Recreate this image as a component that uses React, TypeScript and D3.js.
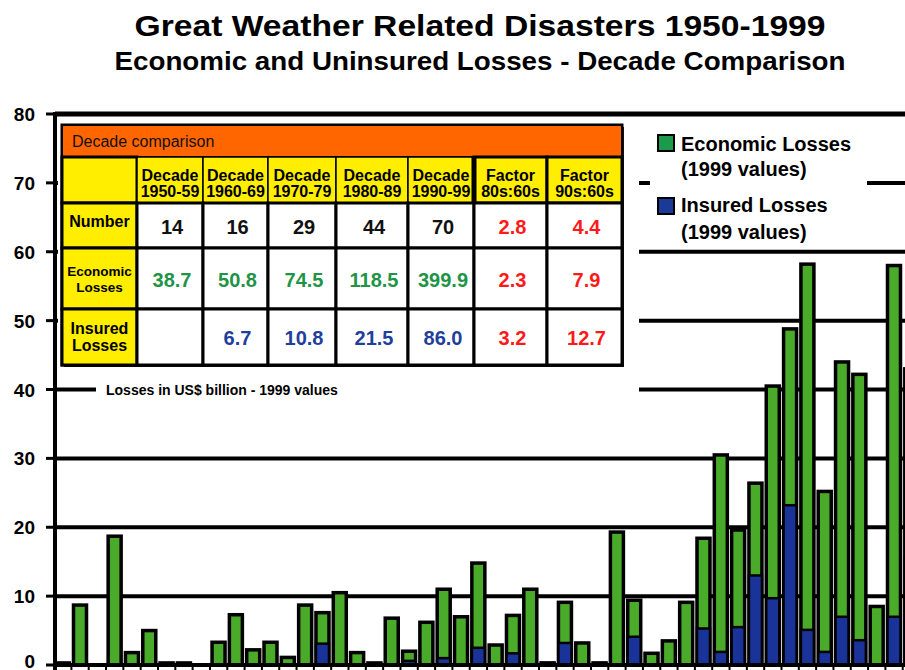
import React from "react";
import * as d3 from "d3";

const years = [1950,1951,1952,1953,1954,1955,1956,1957,1958,1959,1960,1961,1962,1963,1964,1965,1966,1967,1968,1969,1970,1971,1972,1973,1974,1975,1976,1977,1978,1979,1980,1981,1982,1983,1984,1985,1986,1987,1988,1989,1990,1991,1992,1993,1994,1995,1996,1997,1998,1999];
const economic = [0.3,8.7,0,18.7,1.8,5.0,0.3,0.3,0,3.3,7.3,2.2,3.3,1.1,8.7,7.6,10.5,1.8,0.3,6.8,2.0,6.2,11.0,7.0,14.8,2.9,7.2,11.0,0.3,9.1,3.2,0.3,19.3,9.4,1.7,3.5,9.1,18.4,30.5,19.6,26.4,40.5,48.8,58.2,25.2,44.0,42.2,8.5,58.0,43.0];
const insured = [0,0,0,0,0,0,0,0,0,0,0,0,0,0,0,3.1,0,0,0,0,0.6,0,1.0,0,2.5,0,1.7,0,0.3,3.2,0,0.3,0,4.1,0,0,0,5.3,1.9,5.5,13.0,9.7,23.2,5.1,1.9,7.0,3.6,0,7.0,15.5];
const yTicks = [0,10,20,30,40,50,60,70,80];

const decadeHeaders = [["Decade","1950-59"],["Decade","1960-69"],["Decade","1970-79"],["Decade","1980-89"],["Decade","1990-99"],["Factor","80s:60s"],["Factor","90s:60s"]];
const rowLabels = [["Number"],["Economic","Losses"],["Insured","Losses"]];
const numberRow = ["14","16","29","44","70","2.8","4.4"];
const economicRow = ["38.7","50.8","74.5","118.5","399.9","2.3","7.9"];
const insuredRow = ["","6.7","10.8","21.5","86.0","3.2","12.7"];

const FONT = "'Liberation Sans', Arial, sans-serif";
const GREEN = "#4aab2a";
const BLUE = "#1a3399";
const C_NUM = "#111";
const C_ECON = "#1f9447";
const C_INS = "#1f3f9c";
const C_FAC = "#ff1a1a";

export default function App() {
  const W = 905, H = 670;
  const y = d3.scaleLinear().domain([0, 80]).range([665, 114]);
  const x = d3.scaleLinear().domain([1951, 1998]).range([80, 894]);
  const barW = 13;

  const colEdges = [62, 137, 203, 268, 336, 408, 474, 547, 622];
  const rowEdges = [157, 203, 248, 309, 365];
  const rows = [numberRow, economicRow, insuredRow];
  const rowColors = [C_NUM, C_ECON, C_INS];

  return (
    <div style={{ position: "absolute", left: 0, top: 0 }}>
      <svg width={W} height={H} style={{ display: "block", fontFamily: FONT }}>
        <rect x={0} y={0} width={W} height={H} fill="#fff" />
        {/* titles */}
        <text x={480} y={36} textAnchor="middle" fontSize={30} fontWeight="bold" textLength={691} lengthAdjust="spacingAndGlyphs">Great Weather Related Disasters 1950-1999</text>
        <text x={480} y={70} textAnchor="middle" fontSize={25} fontWeight="bold" textLength={731} lengthAdjust="spacingAndGlyphs">Economic and Uninsured Losses - Decade Comparison</text>

        {/* gridlines */}
        {yTicks.filter(t => t > 0).map(t => (
          <line key={"g" + t} x1={55} x2={W} y1={y(t)} y2={y(t)} stroke="#000" strokeWidth={t === 80 ? 5 : 4} />
        ))}
        {/* covers for table and legend */}
        <rect x={58} y={118} width={581} height={262} fill="#fff" />
        <rect x={96} y={378} width={543} height={24} fill="#fff" />
        <rect x={650} y={118} width={217} height={128} fill="#fff" />

        {/* bars */}
        {years.map((yr, i) => economic[i] > 0 ? (
          <g key={"b" + yr}>
            <rect x={x(yr) - barW / 2} y={y(economic[i])} width={barW} height={y(0) - y(economic[i])} fill={GREEN} stroke="#000" strokeWidth={3.5} />
            {insured[i] > 0 && (
              <rect x={x(yr) - barW / 2} y={y(insured[i])} width={barW} height={y(0) - y(insured[i])} fill={BLUE} stroke="#000" strokeWidth={2.5} />
            )}
          </g>
        ) : null)}

        {/* axes */}
        <line x1={55} x2={55} y1={112} y2={H} stroke="#000" strokeWidth={4} />
        <line x1={53} x2={W} y1={y(0)} y2={y(0)} stroke="#000" strokeWidth={4} />
        {years.map(yr => (
          <line key={"xt" + yr} x1={x(yr) - 8.6} x2={x(yr) - 8.6} y1={y(0)} y2={y(0) + 6} stroke="#000" strokeWidth={2} />
        ))}
        {yTicks.map(t => (
          <g key={"yt" + t}>
            <line x1={46} x2={56} y1={y(t)} y2={y(t)} stroke="#000" strokeWidth={3} />
            <text x={35} y={t === 0 ? 668 : y(t) + 7} textAnchor="end" fontSize={19} fontWeight="bold">{t}</text>
          </g>
        ))}

        {/* table */}
        <rect x={64} y={127} width={560} height={240} fill="#222" />
        <rect x={62} y={125} width={560} height={240} fill="#fff" stroke="#000" strokeWidth={3} />
        <rect x={62} y={125} width={560} height={32} fill="#ff6600" stroke="#000" strokeWidth={2} />
        <text x={72} y={147} fontSize={16} fontWeight={500} fill="#111">Decade comparison</text>
        {/* header row */}
        <rect x={colEdges[0]} y={rowEdges[0]} width={colEdges[1] - colEdges[0]} height={rowEdges[1] - rowEdges[0]} fill="#ffee00" stroke="#000" strokeWidth={3} />
        {decadeHeaders.map((h, j) => (
          <g key={"h" + j}>
            <rect x={colEdges[j + 1]} y={rowEdges[0]} width={colEdges[j + 2] - colEdges[j + 1]} height={rowEdges[1] - rowEdges[0]} fill="#ffee00" stroke="#000" strokeWidth={j >= 5 ? 3 : 1.5} />
            <text x={(colEdges[j + 1] + colEdges[j + 2]) / 2} y={181} textAnchor="middle" fontSize={16} fontWeight="bold">{h[0]}</text>
            <text x={(colEdges[j + 1] + colEdges[j + 2]) / 2} y={197} textAnchor="middle" fontSize={16} fontWeight="bold">{h[1]}</text>
          </g>
        ))}
        <line x1={colEdges[6]} x2={colEdges[6]} y1={rowEdges[0]} y2={rowEdges[4]} stroke="#000" strokeWidth={5} />
        {/* body rows */}
        {rows.map((r, i) => (
          <g key={"r" + i}>
            <rect x={colEdges[0]} y={rowEdges[i + 1]} width={colEdges[1] - colEdges[0]} height={rowEdges[i + 2] - rowEdges[i + 1]} fill="#ffee00" stroke="#000" strokeWidth={3} />
            {rowLabels[i].length === 1 ? (
              <text x={(colEdges[0] + colEdges[1]) / 2} y={(rowEdges[i + 1] + rowEdges[i + 2]) / 2 + 1} textAnchor="middle" fontSize={16} fontWeight="bold">{rowLabels[i][0]}</text>
            ) : (
              rowLabels[i].map((l, k) => (
                <text key={k} x={(colEdges[0] + colEdges[1]) / 2} y={(rowEdges[i + 1] + rowEdges[i + 2]) / 2 - 3 + k * (i === 1 ? 16 : 17)} textAnchor="middle" fontSize={i === 1 ? 13.5 : 16} fontWeight="bold">{l}</text>
              ))
            )}
            {r.map((v, j) => (
              <g key={"c" + j}>
                <rect x={colEdges[j + 1]} y={rowEdges[i + 1]} width={colEdges[j + 2] - colEdges[j + 1]} height={rowEdges[i + 2] - rowEdges[i + 1]} fill="#fff" stroke="#000" strokeWidth={3} />
                <text x={(colEdges[j + 1] + colEdges[j + 2]) / 2 + 2} y={(rowEdges[i + 1] + rowEdges[i + 2]) / 2 + 8} textAnchor="middle" fontSize={20} fontWeight="bold" fill={j >= 5 ? C_FAC : rowColors[i]}>{v}</text>
              </g>
            ))}
          </g>
        ))}

        {/* losses note */}
        <text x={106} y={395} fontSize={14} fontWeight="bold">Losses in US$ billion - 1999 values</text>

        {/* legend */}
        <rect x={658} y={135} width={16} height={16} fill="#1a9a4a" stroke="#000" strokeWidth={2} />
        <text x={681} y={151} fontSize={20} fontWeight="bold">Economic Losses</text>
        <text x={681} y={176} fontSize={20} fontWeight="bold">(1999 values)</text>
        <rect x={658} y={198} width={16} height={16} fill="#1a3a9a" stroke="#000" strokeWidth={2} />
        <text x={681} y={212} fontSize={20} fontWeight="bold">Insured Losses</text>
        <text x={681} y={239} fontSize={20} fontWeight="bold">(1999 values)</text>
      </svg>
    </div>
  );
}
